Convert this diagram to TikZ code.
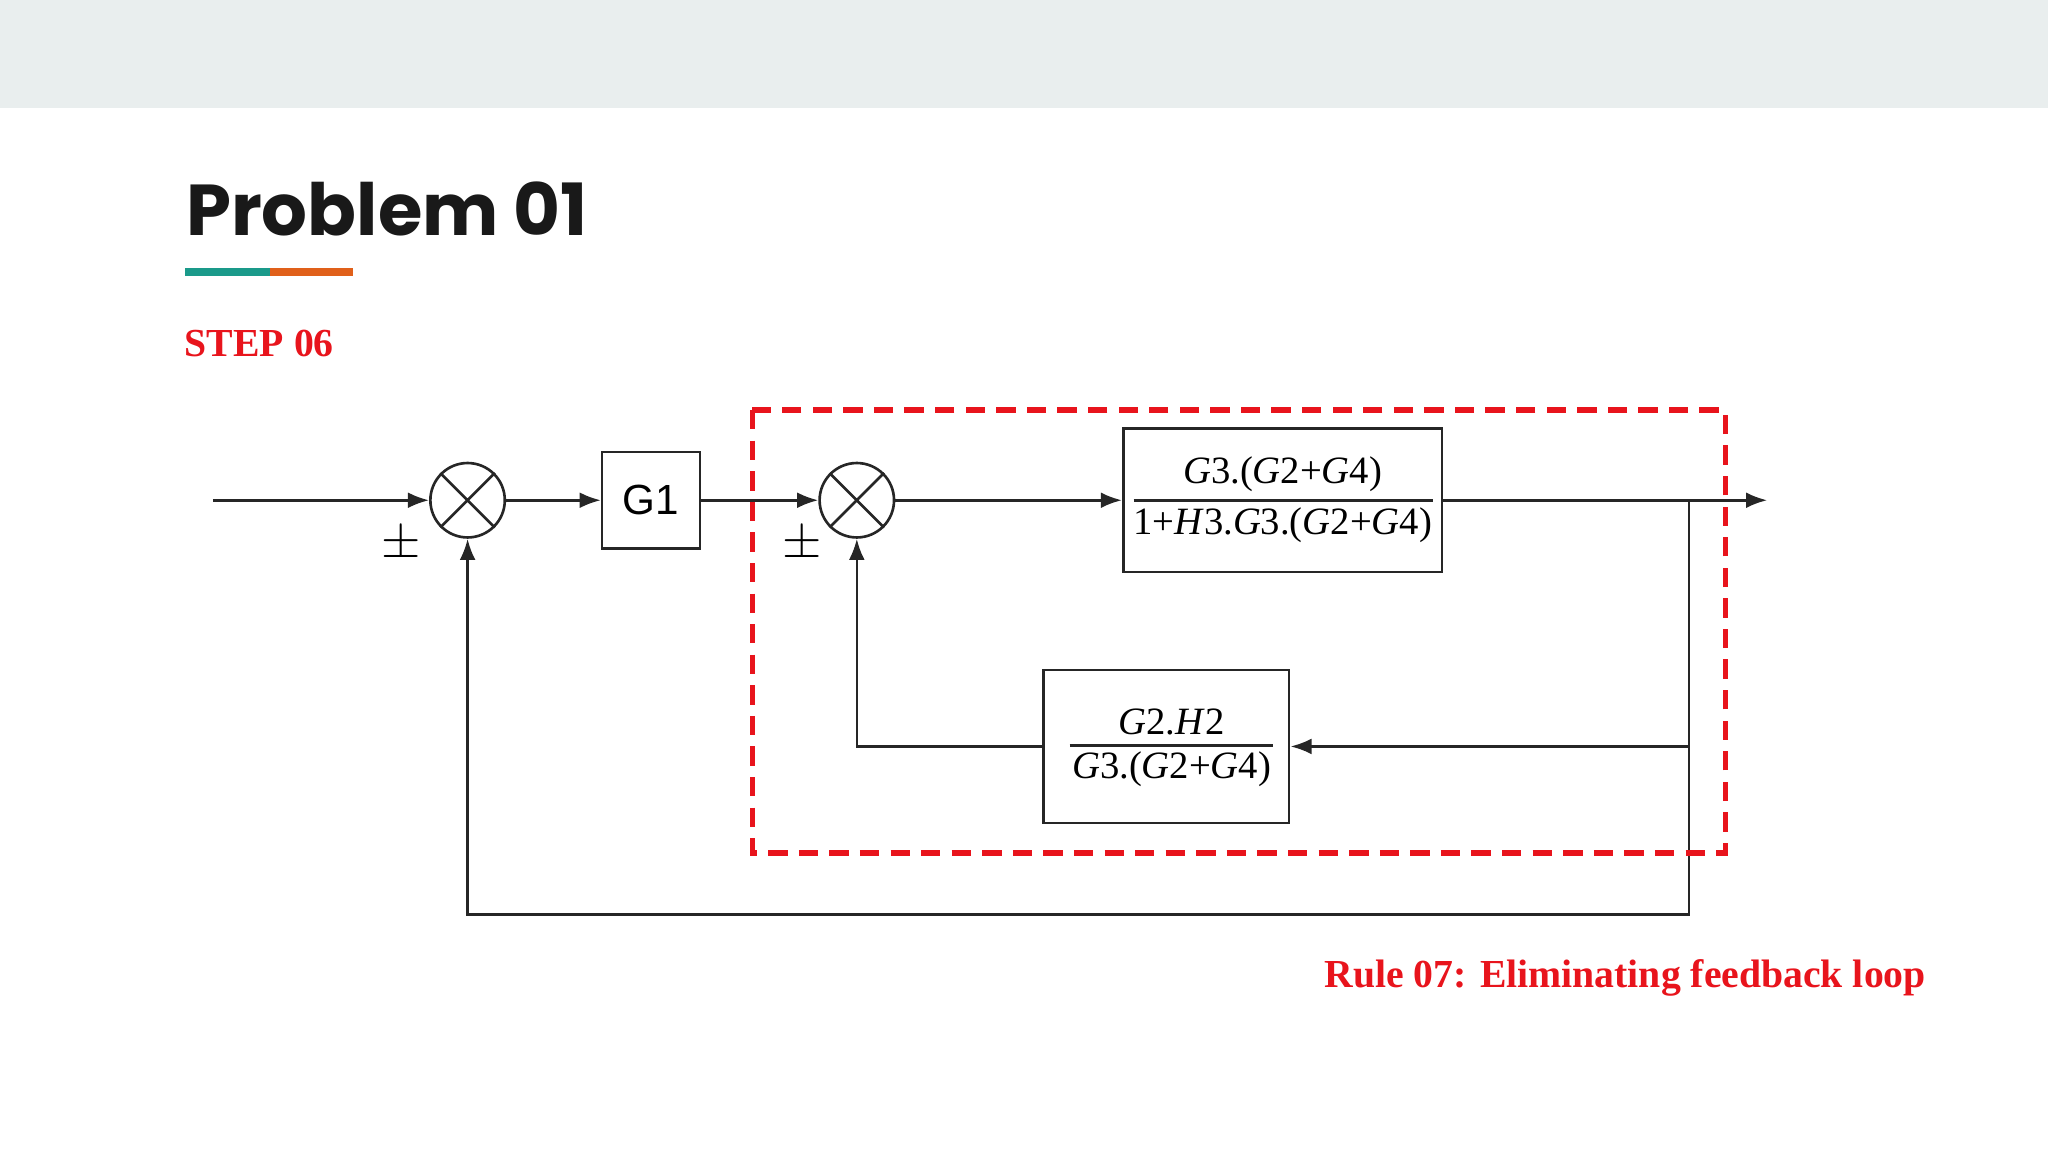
\documentclass[tikz,border=0pt]{standalone}
\usepackage{fontspec}
\setmainfont{Liberation Serif}
\newfontfamily\pop{Poppins}
\newfontfamily\lsans{Liberation Sans}
\usetikzlibrary{arrows.meta}
\definecolor{band}{HTML}{E9EEEE}
\definecolor{teal1}{HTML}{1A9A8A}
\definecolor{orng}{HTML}{E0601A}
\definecolor{rred}{HTML}{E8141C}
\newcommand{\gi}[1]{\textit{G}#1}
\begin{document}
\begin{tikzpicture}[x=0.013061cm,y=-0.013061cm,
  ln/.style={line width=0.75pt,black!85},
  ar/.style={ln,-{Latex[length=6pt,width=4.5pt]}},
  blk/.style={draw=black!85,line width=0.75pt,inner sep=0pt},
  frac/.style={font=\fontsize{11}{13}\selectfont}]
\useasboundingbox (0,0) rectangle (1568,882);
\fill[band] (0,0) rectangle (1568,83);
\node[anchor=base west,inner sep=0,font=\pop\bfseries\fontsize{20.5}{24}\selectfont,black!90] (title) at (142,180) {Problem 01};
\fill[teal1] (142,205) rectangle (207,211);
\fill[orng] (207,205) rectangle (270,211);
\node[anchor=base west,inner sep=0,font=\bfseries\fontsize{11.3}{13}\selectfont,rred] (step) at (141,273) {STEP 06};
% sums
\foreach \n/\x in {s1/358,s2/656}{
  \node[circle,draw=black!85,line width=0.75pt,minimum size=57*0.013061cm,inner sep=0] (\n) at (\x,383) {};
  \draw[ln] (\n.45)--(\n.225) (\n.135)--(\n.315);
}
\node[blk,minimum width=75*0.013061cm,minimum height=74*0.013061cm,font=\lsans\fontsize{12}{14}\selectfont] (g1) at (498.5,383) {G1};
\node[blk,minimum width=244*0.013061cm,minimum height=110*0.013061cm,frac] (b1) at (982,383) {};
\draw[ln] (868,383)--(1097,383);
\node[frac,anchor=center] (b1n) at (982,363) {\gi{3}.(\gi{2}+\gi{4})};
\node[frac,anchor=center] (b1d) at (982,402) {1+\textit{H}3.\gi{3}.(\gi{2}+\gi{4})};
\node[blk,minimum width=188*0.013061cm,minimum height=117*0.013061cm] (b2) at (893,571.5) {};
\draw[ln] (819,571)--(975,571);
\node[frac] (b2n) at (897,553) {\gi{2}.\textit{H}2};
\node[frac] (b2d) at (897,589) {\gi{3}.(\gi{2}+\gi{4})};
\coordinate (in) at (163,383);
\coordinate (out) at (1353,383);
\coordinate (tp) at (1293,383);
\draw[ar] (in)--(s1);
\draw[ar] (s1)--(g1);
\draw[ar] (g1)--(s2);
\draw[ar] (s2)--(b1);
\draw[ar] (b1)--(out);
\draw[ar] (tp)|-(b2);
\draw[ar] (b2)-|(s2);
\draw[ar] (tp)--(1293,700)-|(s1);
\node[font=\fontsize{15}{16}\selectfont] (pm1) at (307,417) {$\pm$};
\node[font=\fontsize{15}{16}\selectfont] (pm2) at (614,417) {$\pm$};
\draw[rred,line width=1.6pt,dash pattern=on 5.5pt off 3.2pt] (576,314) rectangle (1321,653);
\node[anchor=base east,inner sep=0,font=\bfseries\fontsize{11.3}{13}\selectfont,rred] (rule) at (1475,756) {Rule 07: Eliminating feedback loop};
\end{tikzpicture}
\end{document}
